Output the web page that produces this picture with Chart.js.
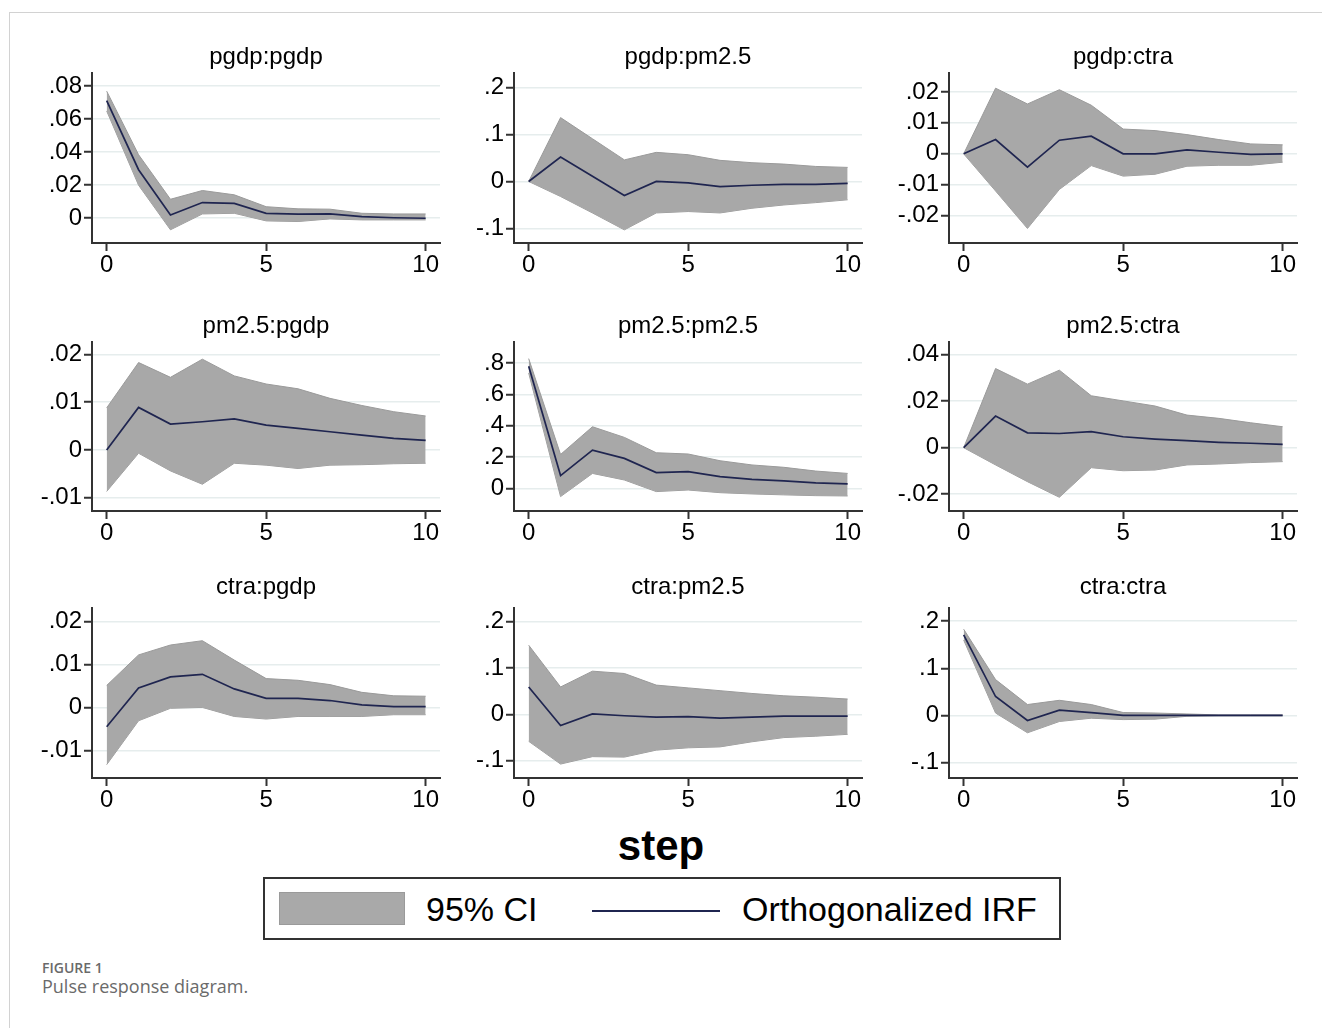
<!DOCTYPE html>
<html>
<head>
<meta charset="utf-8">
<title>Pulse response diagram</title>
<script src="https://cdn.jsdelivr.net/npm/chart.js@4.4.0/dist/chart.umd.min.js"></script>
<style>
  html, body { margin: 0; padding: 0; background: #fff; }
  #page { position: relative; width: 1322px; height: 1028px; overflow: hidden; font-family: "Liberation Sans", Arial, sans-serif; }
  #frame { position: absolute; left: 9px; top: 12px; width: 1330px; height: 1030px; border-top: 1px solid #d2d2d2; border-left: 1px solid #d2d2d2; }
  canvas { position: absolute; }
  #step { position: absolute; left: 547px; top: 822px; width: 228px; text-align: center; font-weight: bold; font-size: 42px; line-height: 48px; color: #000; }
  #legend { position: absolute; left: 263px; top: 877px; width: 794px; height: 59px; border: 2px solid #333; background: #fff; }
  #legend .sw { position: absolute; left: 14px; top: 13px; width: 126px; height: 33px; background: #a9a9a9; border: 1px solid #9a9a9a; box-sizing: border-box; }
  #legend .ln { position: absolute; left: 327px; top: 31px; width: 128px; height: 2px; background: #1f2550; }
  #legend .tx { position: absolute; top: 8px; font-size: 34px; line-height: 44px; color: #000; white-space: nowrap; }
  #cap1 { position: absolute; left: 42px; top: 958px; font-family: "Open Sans", sans-serif; font-weight: 600; font-size: 14px; color: #6a6a6a; }
  #cap2 { position: absolute; left: 42px; top: 974px; font-family: "Open Sans", sans-serif; font-size: 18px; color: #6a6a6a; }
</style>
</head>
<body>
<div id="page">
  <div id="frame"></div>
  <div id="step">step</div>
  <div id="legend">
    <div class="sw"></div>
    <div class="tx" style="left:161px">95% CI</div>
    <div class="ln"></div>
    <div class="tx" style="left:477px">Orthogonalized IRF</div>
  </div>
  <div id="cap1">FIGURE 1</div>
  <div id="cap2">Pulse response diagram.</div>
</div>
<script>
'use strict';

// horizon (x axis)
var steps = [0, 1, 2, 3, 4, 5, 6, 7, 8, 9, 10];
var xTicks = [0, 5, 10];

var titles = ['pgdp:pgdp', 'pgdp:pm2.5', 'pgdp:ctra',
              'pm2.5:pgdp', 'pm2.5:pm2.5', 'pm2.5:ctra',
              'ctra:pgdp', 'ctra:pm2.5', 'ctra:ctra'];

// impulse : response -- irf, lower / upper 95% CI
var pgdp_pgdp_irf = [0.0713, 0.0294, 0.0020, 0.0095, 0.0090, 0.0030, 0.0025, 0.0026, 0.0010, 0.0003, 0.0000];
var pgdp_pgdp_lo  = [0.0650, 0.0200, -0.0070, 0.0026, 0.0030, -0.0016, -0.0020, -0.0004, -0.0010, -0.0010, -0.0010];
var pgdp_pgdp_hi  = [0.0770, 0.0385, 0.0115, 0.0168, 0.0142, 0.0070, 0.0057, 0.0055, 0.0030, 0.0026, 0.0026];

var pgdp_pm25_irf = [0, 0.052, 0.011, -0.030, 0.000, -0.003, -0.011, -0.008, -0.006, -0.006, -0.004];
var pgdp_pm25_lo  = [0, -0.032, -0.067, -0.103, -0.067, -0.064, -0.067, -0.057, -0.050, -0.045, -0.039];
var pgdp_pm25_hi  = [0, 0.136, 0.091, 0.046, 0.062, 0.057, 0.045, 0.040, 0.037, 0.032, 0.030];

var pgdp_ctra_irf = [0, 0.0046, -0.0043, 0.0044, 0.0057, 0.0000, 0.0000, 0.0013, 0.0005, -0.0002, 0.0000];
var pgdp_ctra_lo  = [0, -0.0120, -0.0241, -0.0115, -0.0038, -0.0072, -0.0066, -0.0040, -0.0037, -0.0037, -0.0027];
var pgdp_ctra_hi  = [0, 0.0212, 0.0161, 0.0207, 0.0157, 0.0080, 0.0075, 0.0062, 0.0046, 0.0032, 0.0029];

var pm25_pgdp_irf = [0, 0.0089, 0.0054, 0.0059, 0.0065, 0.0052, 0.0045, 0.0038, 0.0031, 0.0024, 0.0020];
var pm25_pgdp_lo  = [-0.0087, -0.0007, -0.0044, -0.0072, -0.0028, -0.0032, -0.0039, -0.0032, -0.0031, -0.0029, -0.0028];
var pm25_pgdp_hi  = [0.0088, 0.0183, 0.0152, 0.0190, 0.0155, 0.0138, 0.0128, 0.0108, 0.0093, 0.0080, 0.0071];

var pm25_pm25_irf = [0.779, 0.081, 0.244, 0.191, 0.100, 0.106, 0.074, 0.057, 0.047, 0.034, 0.028];
var pm25_pm25_lo  = [0.736, -0.053, 0.095, 0.053, -0.021, -0.011, -0.028, -0.036, -0.042, -0.047, -0.049];
var pm25_pm25_hi  = [0.828, 0.216, 0.393, 0.325, 0.227, 0.219, 0.176, 0.149, 0.134, 0.110, 0.095];

var pm25_ctra_irf = [0, 0.0136, 0.0064, 0.0061, 0.0069, 0.0047, 0.0037, 0.0030, 0.0023, 0.0019, 0.0014];
var pm25_ctra_lo  = [0, -0.0074, -0.0146, -0.0213, -0.0086, -0.0099, -0.0096, -0.0074, -0.0070, -0.0064, -0.0060];
var pm25_ctra_hi  = [0, 0.0340, 0.0273, 0.0333, 0.0223, 0.0201, 0.0179, 0.0140, 0.0126, 0.0107, 0.0090];

var ctra_pgdp_irf = [-0.0045, 0.0045, 0.0071, 0.0077, 0.0043, 0.0021, 0.0021, 0.0016, 0.0006, 0.0002, 0.0002];
var ctra_pgdp_lo  = [-0.0133, -0.0031, -0.0002, 0.0000, -0.0021, -0.0027, -0.0021, -0.0021, -0.0021, -0.0017, -0.0017];
var ctra_pgdp_hi  = [0.0051, 0.0122, 0.0145, 0.0155, 0.0110, 0.0067, 0.0063, 0.0053, 0.0035, 0.0027, 0.0026];

var ctra_pm25_irf = [0.059, -0.024, 0.001, -0.003, -0.006, -0.005, -0.008, -0.006, -0.004, -0.004, -0.004];
var ctra_pm25_lo  = [-0.058, -0.107, -0.091, -0.092, -0.077, -0.072, -0.070, -0.059, -0.050, -0.047, -0.043];
var ctra_pm25_hi  = [0.149, 0.059, 0.093, 0.088, 0.063, 0.057, 0.051, 0.045, 0.040, 0.037, 0.033];

var ctra_ctra_irf = [0.171, 0.040, -0.011, 0.011, 0.006, 0.000, 0.000, 0.000, 0.000, 0.000, 0.000];
var ctra_ctra_lo  = [0.160, 0.005, -0.037, -0.013, -0.006, -0.009, -0.008, -0.002, -0.001, -0.001, -0.001];
var ctra_ctra_hi  = [0.183, 0.076, 0.023, 0.032, 0.023, 0.006, 0.005, 0.003, 0.001, 0.001, 0.001];

// y tick labels per panel
var yTicks = [
  [0, 0.02, 0.04, 0.06, 0.08], [-0.1, 0, 0.1, 0.2], [-0.02, -0.01, 0, 0.01, 0.02],
  [-0.01, 0, 0.01, 0.02], [0, 0.2, 0.4, 0.6, 0.8], [-0.02, 0, 0.02, 0.04],
  [-0.01, 0, 0.01, 0.02], [-0.1, 0, 0.1, 0.2], [-0.1, 0, 0.1, 0.2]
];

var series = [
  [pgdp_pgdp_irf, pgdp_pgdp_lo, pgdp_pgdp_hi], [pgdp_pm25_irf, pgdp_pm25_lo, pgdp_pm25_hi], [pgdp_ctra_irf, pgdp_ctra_lo, pgdp_ctra_hi],
  [pm25_pgdp_irf, pm25_pgdp_lo, pm25_pgdp_hi], [pm25_pm25_irf, pm25_pm25_lo, pm25_pm25_hi], [pm25_ctra_irf, pm25_ctra_lo, pm25_ctra_hi],
  [ctra_pgdp_irf, ctra_pgdp_lo, ctra_pgdp_hi], [ctra_pm25_irf, ctra_pm25_lo, ctra_pm25_hi], [ctra_ctra_irf, ctra_ctra_lo, ctra_ctra_hi]
];

// axis ranges (plot region limits in data units)
var yRange = [
  [-0.015, 0.088], [-0.131, 0.231], [-0.0288, 0.0261],
  [-0.0128, 0.0226], [-0.145, 0.934], [-0.0272, 0.0454],
  [-0.0164, 0.0231], [-0.137, 0.229], [-0.133, 0.228]
];
var xRange = [-0.46, 10.45];

// page layout: plot region edges in px
var colL = [92, 514, 949], colR = [440, 862, 1297];
var rowT = [73, 342, 608], rowB = [243, 511, 778];
var titleY = [57, 326, 587];
var YW = 72, XH = 45, PADT = 44, PADR = 20;
var FONT = '"Liberation Sans", Arial, sans-serif';

var GREY = '#a8a8a8', NAVY = '#1f2550', AXIS = '#333333';

function fmtTick(v) {
  var s = String(+Number(v).toFixed(4));
  return s.replace(/^(-?)0\./, '$1.');
}

function pts(arr) {
  return steps.map(function (s, i) { return { x: s, y: arr[i] }; });
}

// subplot title centred over the plot region
var panelTitle = {
  id: 'panelTitle',
  afterDraw: function (chart, args, opts) {
    var a = chart.chartArea, ctx = chart.ctx;
    ctx.save();
    ctx.font = '24px ' + FONT;
    ctx.fillStyle = '#000';
    ctx.textAlign = 'center';
    ctx.textBaseline = 'middle';
    ctx.fillText(opts.text, (a.left + a.right) / 2, opts.y);
    ctx.restore();
  }
};

var page = document.getElementById('page');

function makePanel(p) {
  var r = Math.floor(p / 3), c = p % 3;
  var cLeft = colL[c] - YW, cTop = rowT[r] - PADT;
  var w = (colR[c] - colL[c]) + YW + PADR;
  var h = PADT + (rowB[r] - rowT[r]) + XH;
  var s = series[p], ticksY = yTicks[p];

  var cv = document.createElement('canvas');
  cv.width = w; cv.height = h;
  cv.style.left = cLeft + 'px'; cv.style.top = cTop + 'px';
  cv.style.width = w + 'px'; cv.style.height = h + 'px';
  page.appendChild(cv);

  new Chart(cv, {
    type: 'line',
    data: {
      datasets: [
        { label: 'Orthogonalized IRF', data: pts(s[0]), borderColor: NAVY, borderWidth: 1.7, fill: false, order: 0 },
        { label: '95% CI', data: pts(s[2]), borderColor: '#9a9a9a', borderWidth: 1, backgroundColor: GREY, fill: '+1', order: 1 },
        { label: 'lower', data: pts(s[1]), borderColor: '#9a9a9a', borderWidth: 1, fill: false, order: 2 }
      ]
    },
    options: {
      responsive: false,
      animation: false,
      devicePixelRatio: 1,
      layout: { padding: { top: PADT, right: PADR, left: 0, bottom: 0 } },
      elements: { point: { radius: 0 }, line: { tension: 0 } },
      plugins: {
        legend: { display: false },
        tooltip: { enabled: false },
        panelTitle: { text: titles[p], y: titleY[r] - cTop }
      },
      scales: {
        x: {
          type: 'linear',
          min: xRange[0], max: xRange[1],
          afterBuildTicks: function (sc) { sc.ticks = xTicks.map(function (v) { return { value: v }; }); },
          afterFit: function (sc) { sc.height = XH; },
          border: { display: true, color: AXIS, width: 2 },
          grid: { drawOnChartArea: false, drawTicks: true, tickLength: 8, tickColor: AXIS, tickWidth: 2 },
          ticks: { color: '#000', padding: 0, maxRotation: 0, font: { family: FONT, size: 24 } }
        },
        y: {
          type: 'linear',
          min: yRange[p][0], max: yRange[p][1],
          afterBuildTicks: function (sc) { sc.ticks = ticksY.map(function (v) { return { value: v }; }); },
          afterFit: function (sc) { sc.width = YW; },
          border: { display: true, color: AXIS, width: 2 },
          grid: { color: '#e6eded', lineWidth: 1.5, drawTicks: true, tickLength: 8, tickColor: AXIS, tickWidth: 2 },
          ticks: {
            color: '#000', padding: 2,
            font: { family: FONT, size: 24 },
            callback: function (v) { return fmtTick(v); }
          }
        }
      }
    },
    plugins: [panelTitle]
  });
}

for (var i = 0; i < 9; i++) makePanel(i);
</script>
</body>
</html>
